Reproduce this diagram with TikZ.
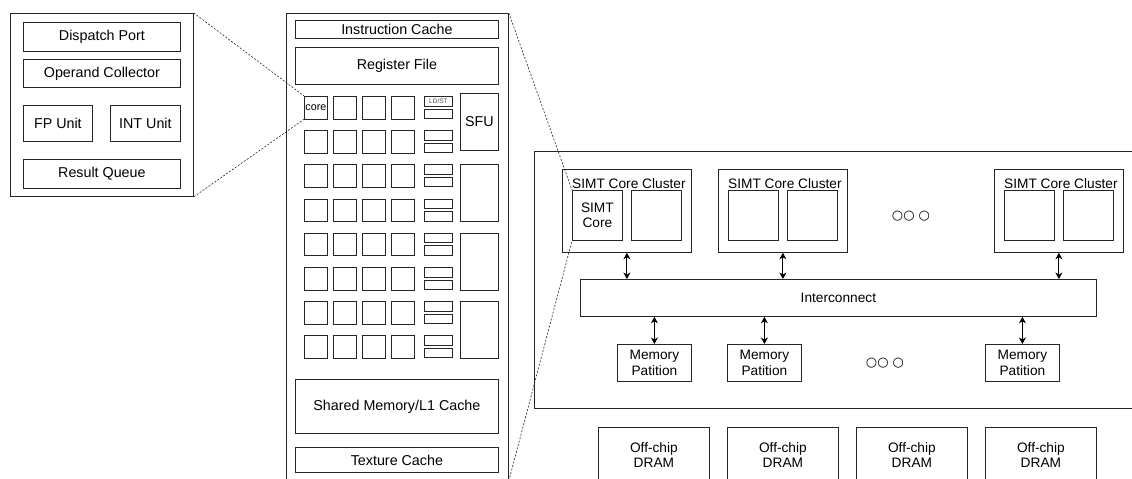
\documentclass[tikz,border=0pt]{standalone}
\usepackage{fontspec}
\setmainfont{Liberation Sans}
\newfontfamily\symfont{DejaVu Sans}
\usetikzlibrary{arrows.meta,calc}
\tikzset{
  box/.style={draw=black!85, line width=0.8pt, inner sep=0pt, anchor=north west, align=center},
  bigtxt/.style={font=\fontsize{14.3}{16}\selectfont},
  midtxt/.style={font=\fontsize{13.7}{15.5}\selectfont},
  cell/.style={box, minimum width=23pt, minimum height=22.5pt},
  lsbox/.style={box, minimum width=28pt, minimum height=9.5pt},
  sfubox/.style={box, minimum width=38pt, minimum height=57pt},
  cluster/.style={box, minimum width=129pt, minimum height=83pt},
  simt/.style={box, minimum width=50pt, minimum height=50pt},
  mpbox/.style={box, midtxt, minimum width=74pt, minimum height=37pt},
  drambox/.style={box, midtxt, minimum width=111pt, minimum height=63pt},
  zoomline/.style={draw=black!85, line width=0.6pt, dash pattern=on 2pt off 1.6pt},
  tip/.style={Stealth[length=6.5pt, width=7pt, inset=2pt]},
  dbl/.style={draw=black, line width=0.9pt, {Stealth[length=6.5pt, width=7pt, inset=2pt]}-{Stealth[length=6.5pt, width=7pt, inset=2pt]}},
  dots/.style={font=\symfont\fontsize{13}{15}\selectfont, inner sep=0pt}
}
\begin{document}
\begin{tikzpicture}[x=1pt, y=-1pt]
\useasboundingbox (0,0) rectangle (1132,479);
\clip (0,0) rectangle (1132,479);

% ---- core detail ----
\node[box, minimum width=183pt, minimum height=183pt] (cd) at (10,13) {};
\node[box, bigtxt, minimum width=157pt, minimum height=29pt] (dp) at (23,22) {Dispatch Port};
\node[box, bigtxt, minimum width=157pt, minimum height=28pt] (oc) at (23,59) {Operand Collector};
\node[box, bigtxt, minimum width=69pt, minimum height=36pt] (fpu) at (23,105) {FP Unit};
\node[box, bigtxt, minimum width=70pt, minimum height=36pt] (intu) at (110,105) {INT Unit};
\node[box, bigtxt, minimum width=157pt, minimum height=29pt] (rq) at (23,159) {Result Queue};

% ---- streaming multiprocessor ----
\node[box, minimum width=222pt, minimum height=467pt] (sm) at (286,13) {};
\node[box, bigtxt, minimum width=203pt, minimum height=18pt] (icache) at (295,20) {Instruction Cache};
\node[box, bigtxt, minimum width=203pt, minimum height=37pt] (regf) at (295,47) {Register File};
\foreach \r in {0,...,7} {
  \pgfmathsetmacro\ry{96+34.2*\r}
  \foreach \c in {0,...,3} {
    \node[cell] (c-\r-\c) at ({304+29*\c},\ry) {};
  }
  \node[lsbox] (ls-\r-a) at (424,\ry) {};
  \node[lsbox] (ls-\r-b) at (424,\ry+12.5) {};
}
\node[font=\fontsize{10.8}{12}\selectfont, inner sep=0pt] (corelbl) at (c-0-0.center) {core};
\node[font=\fontsize{6.5}{7}\selectfont, inner sep=0pt, text=black!70] (lslbl) at (ls-0-a.center) {LD/ST};
\node[sfubox, bigtxt] (sfu1) at (460,93) {SFU};
\node[sfubox] (sfu2) at (460,164) {};
\node[sfubox] (sfu3) at (460,233) {};
\node[sfubox] (sfu4) at (460,301) {};
\node[box, bigtxt, minimum width=203pt, minimum height=54pt] (smem) at (295,379) {Shared Memory/L1 Cache};
\node[box, bigtxt, minimum width=203pt, minimum height=25pt] (tex) at (295,447) {Texture Cache};

% ---- GPU ----
\node[box, minimum width=620pt, minimum height=257pt] (gpu) at (534,151) {};
\foreach \i/\x in {1/562, 2/718, 3/994} {
  \node[cluster] (cl\i) at (\x,169) {};
  \node[midtxt, inner sep=0pt] (clt\i) at ($(cl\i.north)+(2,15)$) {SIMT Core Cluster};
  \node[simt] (s\i a) at (\x+10,190) {};
  \node[simt] (s\i b) at (\x+69,190) {};
}
\node[midtxt, inner sep=0pt, align=center] (simtlbl) at (s1a.center) {SIMT\\Core};
\node[dots] (dots1) at (911,216) {○○ ○};

\node[box, midtxt, minimum width=516pt, minimum height=37pt] (ic) at (580,279) {Interconnect};
\foreach \i in {1,2,3} {
  \draw[dbl] (cl\i.south) -- (cl\i.south |- ic.north);
}

\foreach \i/\x in {1/617, 2/727, 3/985} {
  \node[mpbox] (mp\i) at (\x,344) {Memory\\Patition};
  \draw[dbl] (mp\i.north |- ic.south) -- (mp\i.north);
}
\node[dots] (dots2) at (885,363) {○○ ○};

\foreach \i/\x in {1/598, 2/727, 3/856, 4/985} {
  \node[drambox] (dram\i) at (\x,427) {};
  \node[midtxt, inner sep=0pt, align=center] (dramt\i) at ($(dram\i.north)+(0,28)$) {Off-chip\\DRAM};
}

% ---- zoom lines ----
\draw[zoomline] (cd.north east) -- (c-0-0.north west);
\draw[zoomline] (cd.south east) -- (c-0-0.south west);
\draw[zoomline] (sm.north east) -- (s1a.north west);
\draw[zoomline] (sm.south east) -- (s1a.south west);
\end{tikzpicture}
\end{document}
